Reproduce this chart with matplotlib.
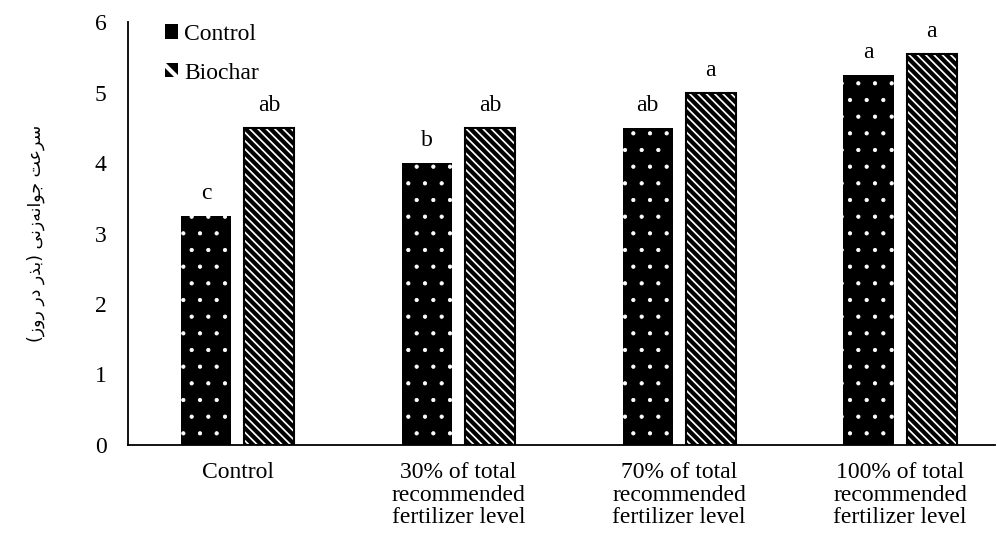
import numpy as np
import matplotlib
matplotlib.use('Agg')
import matplotlib.pyplot as plt
from matplotlib.patches import Patch

# data
categories = ['Control',
              '30% of total\nrecommended\nfertilizer level',
              '70% of total\nrecommended\nfertilizer level',
              '100% of total\nrecommended\nfertilizer level']
control_vals = [3.25, 4.0, 4.5, 5.25]
biochar_vals = [4.5, 4.5, 5.0, 5.55]
control_letters = ['c', 'b', 'ab', 'a']
biochar_letters = ['ab', 'ab', 'a', 'a']
series_names = ['Control', 'Biochar']


def shape_persian(glyphs):
    # glyphs are already in their contextual (presentation) forms, logical order;
    # matplotlib has no bidi support, so reverse and mirror brackets by hand
    s = ''.join(reversed(glyphs))
    return s.translate(str.maketrans('()', ')('))


# "سرعت جوانه‌زنی (بذر در روز)"
ylabel_glyphs = ['\uFEB3', '\uFEAE', '\uFECB', '\uFE96', ' ',
                 '\uFE9F', '\uFEEE', '\uFE8D', '\uFEE7', '\uFEEA',
                 '\uFEAF', '\uFEE7', '\uFEF0', ' ',
                 '(', '\uFE91', '\uFEAC', '\uFEAD', ' ',
                 '\uFEA9', '\uFEAD', ' ',
                 '\uFEAD', '\uFEED', '\uFEAF', ')']
ylabel_text = shape_persian(ylabel_glyphs)

plt.rcParams['font.family'] = ['Liberation Serif', 'DejaVu Serif']
plt.rcParams['hatch.linewidth'] = 3.0
FS = 17

fig = plt.figure(figsize=(9.97, 5.40), dpi=100)
ax = fig.add_axes([0.128, 0.176, 0.870, 0.783])

x = np.arange(len(categories))
width = 0.227
off = 0.143

b1 = ax.bar(x - off, control_vals, width, color='black', edgecolor='white',
            linewidth=0, hatch='.')
b2 = ax.bar(x + off, biochar_vals, width, color='white', edgecolor='black',
            linewidth=1.5, hatch='\\' * 4)
for p in b1:
    if hasattr(p, 'set_hatch_linewidth'):
        p.set_hatch_linewidth(0.6)

for xi, v, t in zip(x - off, control_vals, control_letters):
    ax.text(xi, v + 0.24, t, ha='center', va='baseline', fontsize=FS)
for xi, v, t in zip(x + off, biochar_vals, biochar_letters):
    ax.text(xi, v + 0.24, t, ha='center', va='baseline', fontsize=FS)

ax.set_ylim(0, 6)
ax.set_xlim(-0.498, 3.43)
ax.set_yticks(range(7))
ax.set_xticks(x)
ax.set_xticklabels(categories, fontsize=FS, linespacing=1.12)
ax.tick_params(axis='y', length=0, pad=15, labelsize=FS)
ax.tick_params(axis='x', length=0, pad=12)

for s in ['top', 'right']:
    ax.spines[s].set_visible(False)
ax.spines['left'].set_linewidth(1.3)
ax.spines['bottom'].set_linewidth(1.3)

ax.set_ylabel(ylabel_text, family=['DejaVu Sans'], fontsize=12.5, labelpad=36)

handles = [Patch(facecolor='black', edgecolor='white', linewidth=0),
           Patch(facecolor='black', edgecolor='white', linewidth=0, hatch='\\')]
ax.legend(handles, series_names, loc='upper left', bbox_to_anchor=(0.019, 1.046),
          frameon=False, fontsize=FS, handlelength=0.55, handleheight=0.55,
          handletextpad=0.25, labelspacing=0.75)

fig.savefig('out.png', dpi=100)
